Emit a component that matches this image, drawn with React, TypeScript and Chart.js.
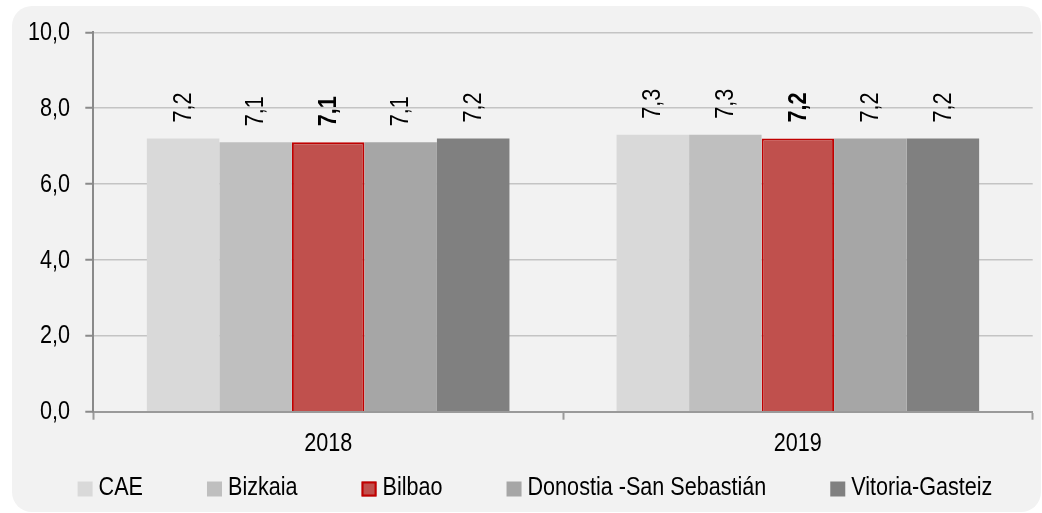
import React, { useEffect, useRef } from "react";
import { Chart, registerables } from "chart.js";

Chart.register(...registerables);

const categories = ["2018", "2019"];
const seriesNames = ["CAE", "Bizkaia", "Bilbao", "Donostia -San Sebastián", "Vitoria-Gasteiz"];
const caeValues = [7.2, 7.3];
const bizkaiaValues = [7.1, 7.3];
const bilbaoValues = [7.1, 7.2];
const donostiaValues = [7.1, 7.2];
const vitoriaValues = [7.2, 7.2];
const yTickValues = [0, 2, 4, 6, 8, 10];

const seriesValues = [caeValues, bizkaiaValues, bilbaoValues, donostiaValues, vitoriaValues];
const fillColors = ["#d9d9d9", "#bfbfbf", "#c0504d", "#a6a6a6", "#808080"];
const borderColors = ["#d9d9d9", "#bfbfbf", "#c00000", "#a6a6a6", "#808080"];
const boldSeries = [false, false, true, false, false];

const FONT = "'Liberation Sans', Arial, sans-serif";
const FONT_SIZE = 26;
const NARROW = 0.83;

const fmt = (v: number) => v.toFixed(1).replace(".", ",");

function narrowText(ctx: any, text: string, x: number, y: number, align: string, bold = false, rotate = false) {
  ctx.save();
  ctx.font = `${bold ? "bold " : ""}${FONT_SIZE}px ${FONT}`;
  ctx.fillStyle = "#000000";
  ctx.textAlign = align;
  ctx.textBaseline = "middle";
  ctx.translate(x, y);
  if (rotate) ctx.rotate(-Math.PI / 2);
  ctx.scale(NARROW, 1);
  ctx.fillText(text, 0, 0);
  ctx.restore();
}

function narrowWidth(ctx: any, text: string) {
  ctx.save();
  ctx.font = `${FONT_SIZE}px ${FONT}`;
  const w = ctx.measureText(text).width * NARROW;
  ctx.restore();
  return w;
}

const valueLabelPlugin = {
  id: "valueLabels",
  afterDatasetsDraw(chart: any) {
    const ctx = chart.ctx;
    chart.data.datasets.forEach((ds: any, di: number) => {
      const meta = chart.getDatasetMeta(di);
      meta.data.forEach((bar: any, i: number) => {
        narrowText(ctx, fmt(ds.data[i]), bar.x + 0.5, bar.y - 16, "left", boldSeries[di], true);
      });
    });
  },
};

const axisLabelPlugin = {
  id: "axisLabels",
  afterDraw(chart: any) {
    const ctx = chart.ctx;
    const ys = chart.scales.y;
    const xs = chart.scales.x;
    yTickValues.forEach((v) => {
      narrowText(ctx, fmt(v), 70, ys.getPixelForValue(v) + 0.5, "right");
    });
    categories.forEach((c, i) => {
      narrowText(ctx, c, xs.getPixelForValue(i), 443.5, "center");
    });
  },
};

const legendPlugin = {
  id: "customLegend",
  afterDraw(chart: any) {
    const ctx = chart.ctx;
    const box = 15;
    const textGap = 6;
    const itemGap = 64;
    const widths = seriesNames.map((n) => box + textGap + narrowWidth(ctx, n));
    const total = widths.reduce((a, b) => a + b, 0) + itemGap * (seriesNames.length - 1);
    let x = 535 - total / 2;
    const cy = 489;
    seriesNames.forEach((name, i) => {
      ctx.save();
      ctx.fillStyle = fillColors[i];
      ctx.fillRect(x, cy - box / 2, box, box);
      if (borderColors[i] !== fillColors[i]) {
        ctx.strokeStyle = borderColors[i];
        ctx.lineWidth = 2;
        ctx.strokeRect(x + 1, cy - box / 2 + 1, box - 2, box - 2);
      }
      ctx.restore();
      narrowText(ctx, name, x + box + textGap, cy - 1.5, "left");
      x += widths[i] + itemGap;
    });
  },
};

export default function App() {
  const ref = useRef<HTMLCanvasElement | null>(null);

  useEffect(() => {
    if (!ref.current) return;
    const chart = new Chart(ref.current, {
      type: "bar",
      data: {
        labels: categories,
        datasets: seriesNames.map((name, i) => ({
          label: name,
          data: seriesValues[i],
          backgroundColor: fillColors[i],
          borderColor: borderColors[i],
          borderWidth: i === 2 ? 2 : 0,
          barPercentage: 1,
          categoryPercentage: 0.772,
        })),
      },
      options: {
        animation: false,
        responsive: false,
        devicePixelRatio: 1,
        layout: { padding: { left: 0, right: 9.3, top: 32.3, bottom: 51.3 } },
        plugins: {
          legend: { display: false },
          tooltip: { enabled: false },
          title: { display: false },
        },
        scales: {
          x: {
            offset: true,
            grid: {
              offset: true,
              drawOnChartArea: false,
              drawTicks: true,
              tickLength: 8,
              tickColor: "#9a9a9a",
              tickWidth: 2,
            },
            border: { color: "#9a9a9a", width: 2 },
            ticks: { display: false },
            afterFit: (scale: any) => {
              scale.height = 50;
            },
          },
          y: {
            min: 0,
            max: 10,
            afterBuildTicks: (scale: any) => {
              scale.ticks = yTickValues.map((v) => ({ value: v }));
            },
            grid: {
              color: "#c4c4c4",
              lineWidth: 1.5,
              drawTicks: true,
              tickLength: 8,
              tickColor: "#8a8a8a",
              tickWidth: 2,
            },
            border: { color: "#8a8a8a", width: 2 },
            ticks: { display: false },
            afterFit: (scale: any) => {
              scale.width = 93.3;
            },
          },
        },
      },
      plugins: [valueLabelPlugin, axisLabelPlugin, legendPlugin],
    });
    return () => chart.destroy();
  }, []);

  return (
    <div style={{ position: "absolute", left: 0, top: 0, width: 1042, height: 513, background: "#ffffff", overflow: "hidden" }}>
      <div
        style={{
          position: "absolute",
          left: 12,
          top: 6,
          width: 1029,
          height: 506,
          borderRadius: 20,
          background: "#f2f2f2",
        }}
      />
      <canvas ref={ref} width={1042} height={513} style={{ position: "absolute", left: 0, top: 0, width: 1042, height: 513 }} />
    </div>
  );
}
